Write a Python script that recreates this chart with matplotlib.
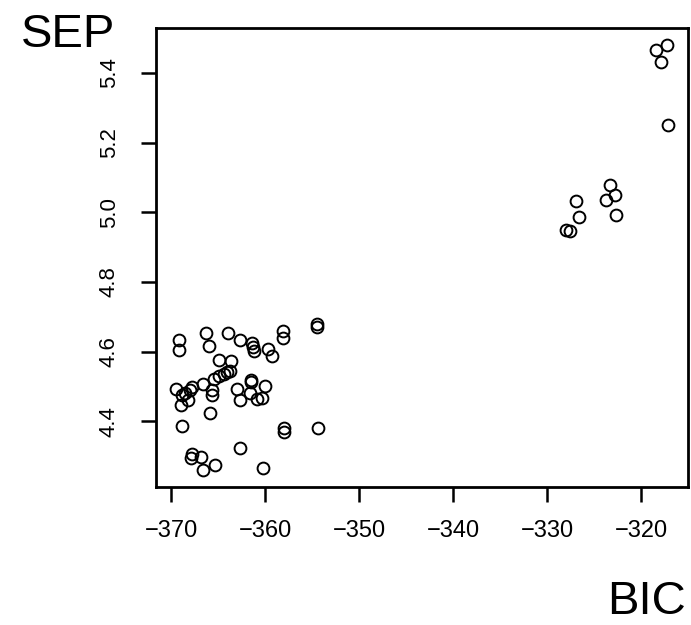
import matplotlib
matplotlib.use('Agg')
import matplotlib.pyplot as plt

plt.rcParams['font.family'] = ['Liberation Sans', 'DejaVu Sans']

# BIC / SEP values
bic = [-369.1, -369.2, -366.3, -366.0, -363.9, -362.7, -361.4, -361.3, -361.2,
       -359.7, -359.3, -358.1, -358.1, -354.5, -354.5, -364.9, -363.6, -365.4,
       -364.9, -364.4, -364.0, -363.7, -369.5, -368.8, -368.5, -367.8, -368.0,
       -366.6, -365.6, -365.6, -363.0, -362.7, -361.5, -361.5, -361.6, -360.8,
       -360.3, -360.0, -368.9, -368.2, -365.9, -368.8, -358.0, -358.0, -354.4,
       -362.7, -367.8, -367.9, -366.8, -366.6, -365.3, -360.2,
       -317.2, -318.4, -317.9, -317.1, -323.3, -322.8, -323.7, -322.7,
       -326.9, -326.6, -328.0, -327.6]
sep = [4.634, 4.605, 4.654, 4.615, 4.654, 4.632, 4.624, 4.613, 4.601,
       4.607, 4.586, 4.659, 4.638, 4.678, 4.670, 4.577, 4.572, 4.521,
       4.529, 4.537, 4.542, 4.544, 4.492, 4.476, 4.481, 4.497, 4.491,
       4.506, 4.489, 4.475, 4.493, 4.462, 4.517, 4.512, 4.481, 4.464,
       4.466, 4.502, 4.448, 4.460, 4.425, 4.386, 4.381, 4.369, 4.382,
       4.322, 4.307, 4.294, 4.298, 4.260, 4.274, 4.267,
       5.480, 5.465, 5.430, 5.250, 5.078, 5.049, 5.035, 4.992,
       5.032, 4.985, 4.948, 4.946]

x_ticks = [-370, -360, -350, -340, -330, -320]
y_ticks = [4.4, 4.6, 4.8, 5.0, 5.2, 5.4]

fig = plt.figure(figsize=(6.91, 6.25), dpi=100)
ax = fig.add_axes([156 / 691, 138 / 625, 532 / 691, 459 / 625])

ax.plot(bic, sep, 'o', mfc='none', mec='black', ms=8.5, mew=1.4)

# R-style 4% padding around the data
xr = max(bic) - min(bic)
yr = max(sep) - min(sep)
ax.set_xlim(min(bic) - 0.04 * xr, max(bic) + 0.04 * xr)
ax.set_ylim(min(sep) - 0.04 * yr, max(sep) + 0.04 * yr)
ax.set_xticks(x_ticks)
ax.set_yticks(y_ticks)
ax.set_xticklabels(['\u2212%d' % abs(v) for v in x_ticks])
ax.set_yticklabels(['%.1f' % v for v in y_ticks])

for s in ax.spines.values():
    s.set_linewidth(2)
ax.tick_params(direction='out', length=11, width=1.8)
ax.tick_params(axis='x', pad=13, labelsize=17)
ax.tick_params(axis='y', pad=15, labelsize=16)
plt.setp(ax.get_yticklabels(), rotation=90, va='center')

fig.text(0.03, 0.925, 'SEP', fontsize=34, ha='left', va='baseline')
fig.text(0.992, 0.017, 'BIC', fontsize=34, ha='right', va='baseline')

fig.savefig('out.png', dpi=100)
